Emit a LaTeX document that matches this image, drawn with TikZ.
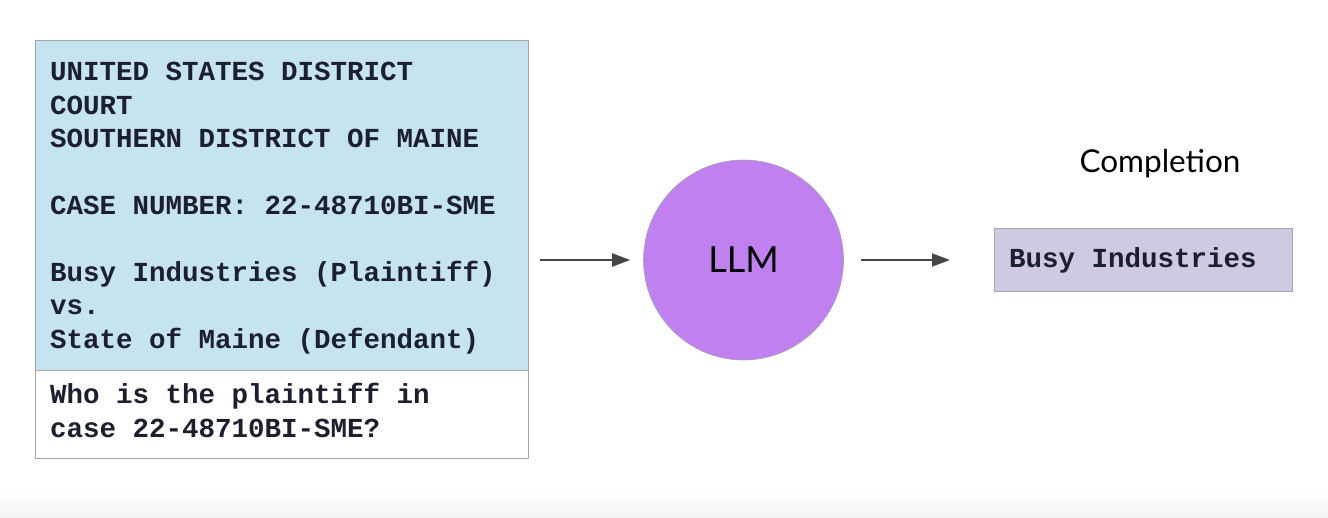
\documentclass[tikz,border=0pt]{standalone}
\usepackage{fontspec}
\setmonofont{Liberation Mono}
\newfontfamily\latofont{Lato}
\usetikzlibrary{arrows.meta}
\definecolor{docblue}{RGB}{198,228,239}
\definecolor{boxgray}{RGB}{165,165,170}
\definecolor{txtdark}{RGB}{28,32,46}
\definecolor{llmpurple}{RGB}{192,128,240}
\definecolor{complav}{RGB}{207,201,228}
\definecolor{arrgray}{RGB}{70,70,70}
\definecolor{bggray}{RGB}{243,243,243}
\tikzset{
  monotxt/.style={anchor=base west, inner sep=0pt, text=txtdark, font=\ttfamily\bfseries\fontsize{27.5}{33.4}\selectfont},
  boxstyle/.style={draw=boxgray, line width=0.8pt, anchor=north west, inner sep=0pt},
  arr/.style={draw=arrgray, line width=2pt, -{Triangle[length=18pt,width=13pt]}},
}
\begin{document}
\begin{tikzpicture}[x=1pt,y=-1pt]
\useasboundingbox (0,0) rectangle (1328,518);
\fill[white] (0,0) rectangle (1328,518);
\shade[top color=white, bottom color=bggray] (0,492) rectangle (1328,518);

% document box
\node[boxstyle, fill=docblue, minimum width=493pt, minimum height=330pt] (doc) at (35,40) {};
\node[boxstyle, fill=white, minimum width=493pt, minimum height=88pt] (q) at (35,370) {};

\node[monotxt] (d1) at (50,81) {UNITED STATES DISTRICT};
\node[monotxt] (d2) at (50,114.4) {COURT};
\node[monotxt] (d3) at (50,147.8) {SOUTHERN DISTRICT OF MAINE};
\node[monotxt] (d4) at (50,214.6) {CASE NUMBER: 22-48710BI-SME};
\node[monotxt] (d5) at (50,281.4) {Busy Industries (Plaintiff)};
\node[monotxt] (d6) at (50,314.8) {vs.};
\node[monotxt] (d7) at (50,348.2) {State of Maine (Defendant)};

\node[monotxt] (q1) at (50,404) {Who is the plaintiff in};
\node[monotxt] (q2) at (50,437) {case 22-48710BI-SME?};

% LLM
\node[circle, minimum size=200pt, inner sep=0pt, fill=llmpurple, draw=boxgray, line width=0.6pt,
      font=\latofont\fontsize{36}{36}\selectfont, text=black] (llm) at (743.5,260) {LLM};

% completion
\node[anchor=base, inner sep=0pt, font=\latofont\fontsize{31.5}{31.5}\selectfont, text=black] (lbl) at (1160,173) {Completion};
\node[boxstyle, fill=complav, minimum width=298pt, minimum height=63pt] (comp) at (994,228) {};
\node[monotxt] (ans) at (1009,268) {Busy Industries};

% arrows
\coordinate (in) at (540,260);
\draw[arr, shorten >=13pt] (in) -- (llm.west);
\draw[arr, shorten <=17pt, shorten >=44pt] (llm.east) -- (llm.east -| comp.west);
\end{tikzpicture}
\end{document}
